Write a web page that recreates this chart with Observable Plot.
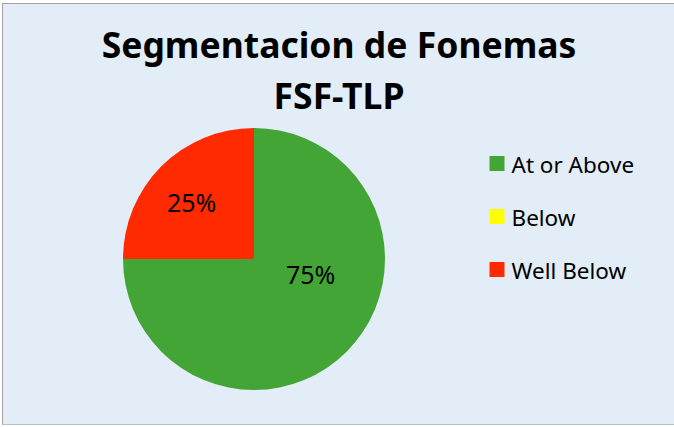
<!DOCTYPE html>
<html><head><meta charset="utf-8">
<script src="https://cdn.jsdelivr.net/npm/d3@7"></script>
<script src="https://cdn.jsdelivr.net/npm/@observablehq/plot@0.6"></script>
<style>
html,body{margin:0;padding:0;background:#fff;overflow:hidden;}
#wrap{position:relative;width:674px;height:427px;overflow:hidden;}
#box{position:absolute;left:2px;top:3px;right:-20px;bottom:2px;border-left:1px solid #a3a3a3;border-top:1px solid #a3a3a3;border-bottom:1px solid #b4bfcc;background:#e3edf7;}
#chart{position:absolute;left:0;top:0;}
#chart svg{background:transparent;display:block;}
</style></head><body>
<div id="wrap"><div id="box"></div><div id="chart"></div></div>
<script>
// ---- data ----
const categories = ["At or Above", "Below", "Well Below"];
const shares = [75, 0, 25];
const colors = ["#43a535", "#ffff00", "#ff2a00"];
const titleLines = ["Segmentacion de Fonemas", "FSF-TLP"];

const data = categories.map((c, i) => ({category: c, share: shares[i]}));
const total = d3.sum(shares);

// ---- layout (not data): pie position and label placement (polar, degrees clockwise from 12 o'clock) ----
const pieLayout = {cx: 254, cy: 259, r: 131};
const labelPlacement = {
  "At or Above": {angle: 106, radius: 0.45},
  "Well Below": {angle: 312, radius: 0.64}
};

const pieMark = (index, scales) => {
  const {cx, cy, r} = pieLayout;
  const arcs = d3.pie().sort(null).value(d => d.share)(data);
  const arc = d3.arc().innerRadius(0).outerRadius(r);
  const g = d3.create("svg:g").attr("transform", `translate(${cx},${cy})`);
  const shown = arcs.filter(a => a.data.share > 0);
  g.selectAll("path").data(shown).join("path")
    .attr("d", arc)
    .attr("fill", a => scales.color(a.data.category));
  g.selectAll("text").data(shown).join("text")
    .attr("transform", a => {
      const p = labelPlacement[a.data.category];
      let ang, rad;
      if (p) { ang = p.angle * Math.PI / 180; rad = p.radius * r; }
      else { ang = (a.startAngle + a.endAngle) / 2; rad = 0.64 * r; }
      return `translate(${rad * Math.sin(ang)},${-rad * Math.cos(ang)})`;
    })
    .attr("text-anchor", "middle")
    .attr("dy", "0.36em")
    .attr("font-family", "'Noto Sans', sans-serif")
    .attr("font-size", 25)
    .attr("fill", "#000")
    .text(a => Math.round(a.data.share / total * 100) + "%");
  return g.node();
};

const chart = Plot.plot({
  width: 674,
  height: 427,
  margin: 0,
  style: {background: "transparent", fontFamily: "'Noto Sans', sans-serif"},
  y: {type: "point", domain: categories, range: [162.5, 269.5], padding: 0, axis: null},
  color: {domain: categories, range: colors},
  marks: [
    pieMark,
    Plot.text([titleLines.join("\n")], {
      text: d => d, frameAnchor: "top", lineAnchor: "top", dx: 1.5, dy: 21,
      lineHeight: 1.437, fontSize: 35.5, fontWeight: "bold", fill: "#000"
    }),
    Plot.dot(categories, {
      y: d => d, fill: d => d, symbol: "square", r: 8.46,
      frameAnchor: "left", dx: 496.5
    }),
    Plot.text(categories, {
      y: d => d, text: d => d, frameAnchor: "left", dx: 511, dy: 2,
      textAnchor: "start", fontSize: 22.5, fill: "#000"
    })
  ]
});
document.getElementById("chart").appendChild(chart);
</script>
</body></html>
